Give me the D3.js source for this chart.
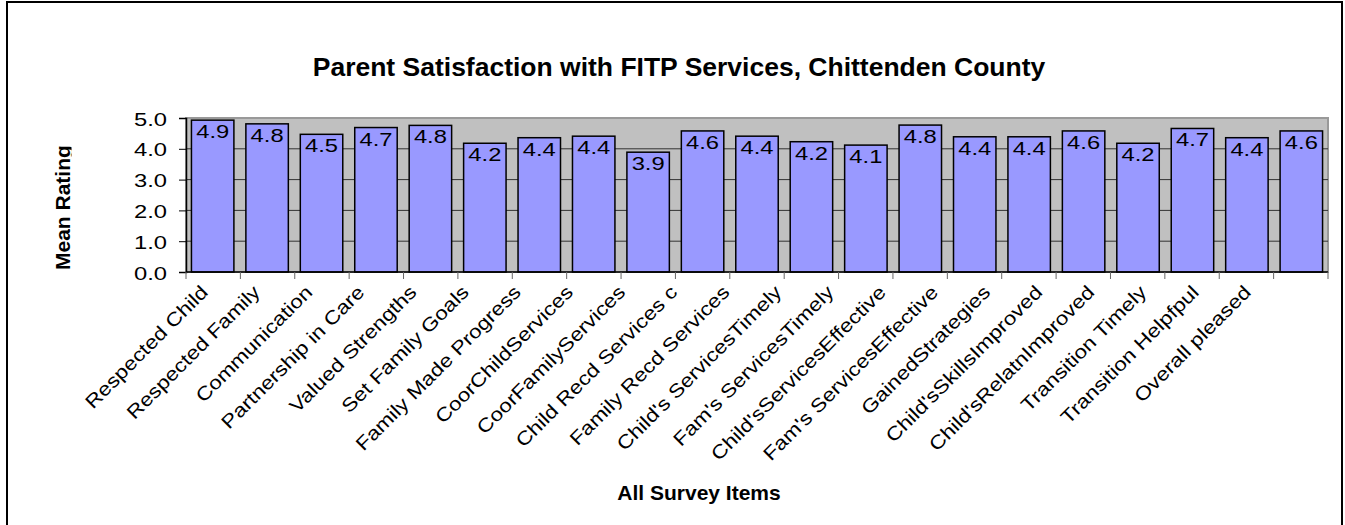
<!DOCTYPE html>
<html>
<head>
<meta charset="utf-8">
<script src="https://cdn.jsdelivr.net/npm/d3@7"></script>
<style>
  body { margin: 0; background: #fff; }
  svg { display: block; font-family: "Liberation Sans", Arial, sans-serif; }
</style>
</head>
<body>
<svg id="chart" width="1345" height="525"></svg>
<script>
const items = [
  'Respected Child', 'Respected Family', 'Communication', 'Partnership in Care',
  'Valued Strengths', 'Set Family Goals', 'Family Made Progress', 'CoorChildServices',
  'CoorFamilyServices', 'Child Recd Services c', 'Family Recd Services', "Child's ServicesTimely",
  "Fam's ServicesTimely", "Child'sServicesEffective", "Fam's ServicesEffective", 'GainedStrategies',
  "Child'sSkillsImproved", "Child'sRelatnImproved", 'Transition Timely', 'Transition Helpfpul',
  'Overall pleased'
];
const meanRating = [
  4.93, 4.81, 4.47, 4.69, 4.76, 4.18, 4.36, 4.41, 3.89, 4.58, 4.41,
  4.23, 4.12, 4.77, 4.39, 4.39, 4.58, 4.18, 4.66, 4.36, 4.58
];
const yTicks = [0, 1, 2, 3, 4, 5];

const svg = d3.select('#chart');
const plot = { left: 186, right: 1328, top: 118, bottom: 272 };
const wide = 1.25; // glyphs in the original are stretched sideways

// outer frame
svg.append('rect')
  .attr('x', 7).attr('y', 2).attr('width', 1335).attr('height', 530)
  .attr('fill', 'none').attr('stroke', '#000').attr('stroke-width', 2);

svg.append('text')
  .attr('transform', 'translate(679,76) scale(1.06,1)')
  .attr('text-anchor', 'middle')
  .attr('font-size', 25).attr('font-weight', 'bold')
  .text('Parent Satisfaction with FITP Services, Chittenden County');

const x = d3.scaleBand().domain(items).range([plot.left, plot.right]).paddingInner(0.22).paddingOuter(0.1);
const y = d3.scaleLinear().domain([0, 5]).range([plot.bottom, plot.top]);

// plot area
svg.append('rect')
  .attr('x', plot.left).attr('y', plot.top)
  .attr('width', plot.right - plot.left).attr('height', plot.bottom - plot.top)
  .attr('fill', '#c0c0c0').attr('stroke', '#999').attr('stroke-width', 2);

// gridlines
svg.append('g')
  .selectAll('line')
  .data(yTicks.filter(d => d > 0 && d < 5))
  .join('line')
  .attr('x1', plot.left).attr('x2', plot.right)
  .attr('y1', d => y(d)).attr('y2', d => y(d))
  .attr('stroke', '#333').attr('stroke-width', 1);

// bars
svg.append('g')
  .selectAll('rect')
  .data(meanRating)
  .join('rect')
  .attr('x', (d, i) => x(items[i]))
  .attr('y', d => y(d))
  .attr('width', x.bandwidth())
  .attr('height', d => y(0) - y(d))
  .attr('fill', '#9999ff').attr('stroke', '#000').attr('stroke-width', 1.5);

// value labels
svg.append('g')
  .selectAll('text')
  .data(meanRating)
  .join('text')
  .attr('transform', (d, i) => `translate(${x(items[i]) + x.bandwidth() / 2},${y(d) + 18}) scale(${wide},1)`)
  .attr('text-anchor', 'middle')
  .attr('font-size', 19)
  .text(d => d3.format('.1f')(d));

// y axis
const yAxis = svg.append('g')
  .attr('transform', `translate(${plot.left},0)`)
  .call(d3.axisLeft(y).tickValues(yTicks).tickFormat('').tickSizeOuter(0).tickSize(7));
yAxis.select('.domain').attr('stroke', '#000').attr('stroke-width', 1.5);
yAxis.selectAll('.tick line').attr('stroke', '#000');
yAxis.selectAll('.tick').append('text')
  .attr('transform', `translate(-19,7) scale(${wide},1)`)
  .attr('text-anchor', 'end')
  .attr('font-size', 19).attr('fill', '#000')
  .attr('font-family', '"Liberation Sans", Arial, sans-serif')
  .text(d => d3.format('.1f')(d));

// x axis
const xAxis = svg.append('g')
  .attr('transform', `translate(0,${plot.bottom})`);
xAxis.append('line')
  .attr('x1', plot.left).attr('x2', plot.right)
  .attr('stroke', '#000').attr('stroke-width', 1.5);
xAxis.selectAll('line.tk')
  .data(d3.range(items.length + 1))
  .join('line')
  .attr('class', 'tk')
  .attr('x1', i => plot.left + i * (plot.right - plot.left) / items.length)
  .attr('x2', i => plot.left + i * (plot.right - plot.left) / items.length)
  .attr('y1', 0).attr('y2', 7)
  .attr('stroke', '#666');

// category labels sit slightly tighter than the bands in the original
const labelX = d => 0.958 * (x(d) + x.bandwidth() / 2) - 4;
xAxis.selectAll('text')
  .data(items)
  .join('text')
  .attr('transform', d => `translate(${labelX(d)},${12}) rotate(-45) scale(1.18,1)`)
  .attr('text-anchor', 'end')
  .attr('dy', '0.7em')
  .attr('font-size', 19)
  .text(d => d);

// y axis title: the original cuts off the descender of the g
svg.append('clipPath').attr('id', 'ytclip')
  .append('rect').attr('x', 0).attr('y', 0).attr('width', 71.5).attr('height', 400);
svg.append('g')
  .attr('clip-path', 'url(#ytclip)')
  .append('text')
  .attr('transform', 'translate(70,270) rotate(-90)')
  .attr('text-anchor', 'start')
  .attr('font-size', 21).attr('font-weight', 'bold')
  .text('Mean Rating');

svg.append('text')
  .attr('x', 699).attr('y', 500)
  .attr('text-anchor', 'middle')
  .attr('font-size', 21).attr('font-weight', 'bold')
  .text('All Survey Items');
</script>
</body>
</html>
